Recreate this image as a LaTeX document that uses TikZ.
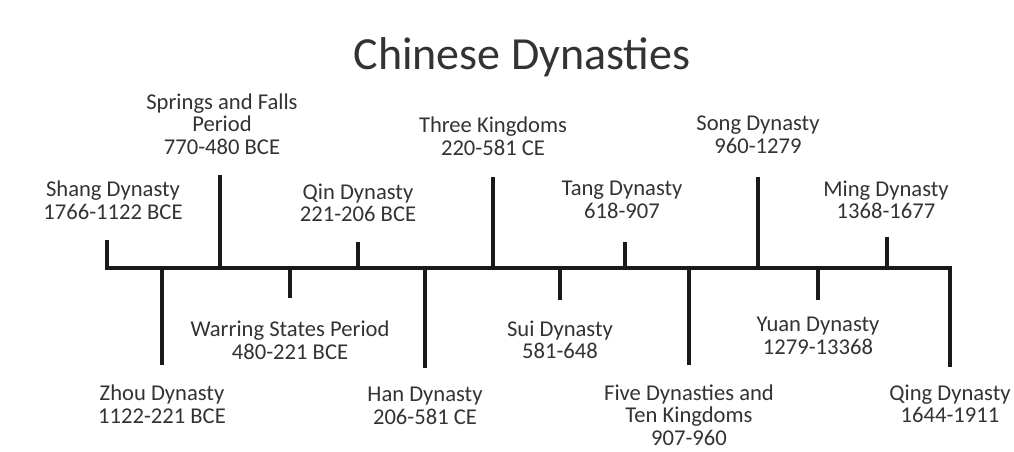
\documentclass[tikz,border=0pt]{standalone}
\usepackage{fontspec}
\setmainfont{Carlito}
\usetikzlibrary{positioning}

\begin{document}
\begin{tikzpicture}[
x=0.5pt,y=-0.5pt,
tick/.style={line width=1.6pt,black!90},
every node/.style={
inner sep=0pt,
align=center,
text=black!80,
font=\fontsize{11.3}{11.3}\selectfont}
]

\useasboundingbox[fill=white] (0,0) rectangle (1014,451);

\node (title) at (522,57) {\fontsize{23}{24}\selectfont Chinese Dynasties};

% labels above the line
\node (shang) at (113,200) {Shang Dynasty\\1766-1122 BCE};
\node (springs) at (222,124) {Springs and Falls\\Period\\770-480 BCE};
\node (qin) at (358,203) {Qin Dynasty\\221-206 BCE};
\node (three) at (493,136) {Three Kingdoms\\220-581 CE};
\node (tang) at (622,200) {Tang Dynasty\\618-907};
\node (song) at (758,135) {Song Dynasty\\960-1279};
\node (ming) at (886,200) {Ming Dynasty\\1368-1677};

% labels below the line
\node (zhou) at (162,404) {Zhou Dynasty\\1122-221 BCE};
\node (warring) at (290,340) {Warring States Period\\480-221 BCE};
\node (han) at (425,406) {Han Dynasty\\206-581 CE};
\node (sui) at (560,340) {Sui Dynasty\\581-648};
\node (five) at (689,415) {Five Dynasties and\\Ten Kingdoms\\907-960};
\node (yuan) at (818,336) {Yuan Dynasty\\1279-13368};
\node (qing) at (950,404) {Qing Dynasty\\1644-1911};

% tick ends
\coordinate (shang-t) at (107,240);
\coordinate (springs-t) at (220,175);
\coordinate (qin-t) at (358,242);
\coordinate (three-t) at (493,177);
\coordinate (tang-t) at (625,242);
\coordinate (song-t) at (758,177);
\coordinate (ming-t) at (887,237);
\coordinate (zhou-t) at (162,365);
\coordinate (warring-t) at (290,298);
\coordinate (han-t) at (425,368);
\coordinate (sui-t) at (560,300);
\coordinate (five-t) at (689,365);
\coordinate (yuan-t) at (818,300);
\coordinate (qing-t) at (950,367);

% points on the line
\coordinate (shang-b) at (107,268);
\coordinate (springs-b) at (220,268);
\coordinate (qin-b) at (358,268);
\coordinate (three-b) at (493,268);
\coordinate (tang-b) at (625,268);
\coordinate (song-b) at (758,268);
\coordinate (ming-b) at (887,268);
\coordinate (zhou-b) at (162,268);
\coordinate (warring-b) at (290,268);
\coordinate (han-b) at (425,268);
\coordinate (sui-b) at (560,268);
\coordinate (five-b) at (689,268);
\coordinate (yuan-b) at (818,268);
\coordinate (qing-b) at (950,268);

\draw[tick] (shang-t)--(shang-b)--(qing-b)--(qing-t);
\draw[tick] (springs-b)--(springs-t);
\draw[tick] (qin-b)--(qin-t);
\draw[tick] (three-b)--(three-t);
\draw[tick] (tang-b)--(tang-t);
\draw[tick] (song-b)--(song-t);
\draw[tick] (ming-b)--(ming-t);
\draw[tick] (zhou-b)--(zhou-t);
\draw[tick] (warring-b)--(warring-t);
\draw[tick] (han-b)--(han-t);
\draw[tick] (sui-b)--(sui-t);
\draw[tick] (five-b)--(five-t);
\draw[tick] (yuan-b)--(yuan-t);

\end{tikzpicture}
\end{document}
